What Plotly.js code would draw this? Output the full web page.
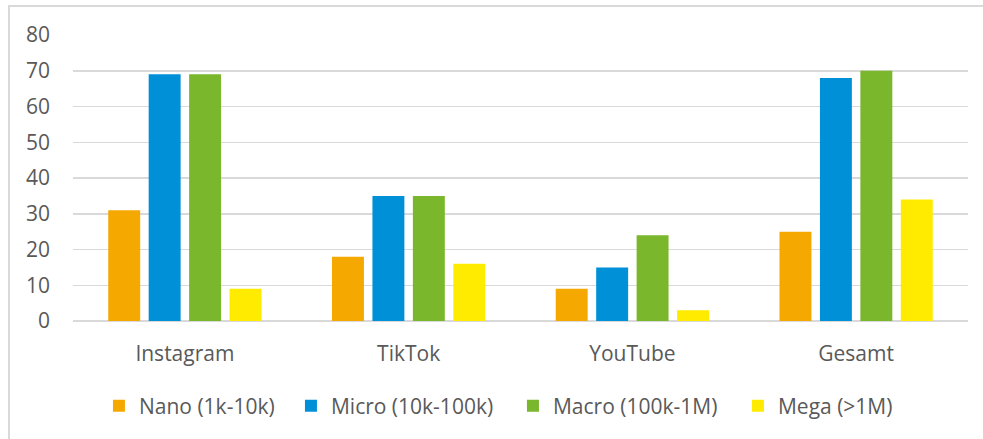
<!DOCTYPE html>
<html><head><meta charset="utf-8">
<script src="https://cdn.plot.ly/plotly-3.0.1.min.js"></script>
<style>
html,body{margin:0;padding:0;background:#fff;overflow:hidden;}
#chart{width:983px;height:439px;}
#frame{position:absolute;left:8px;top:5px;width:1200px;height:800px;border-left:2px solid #D9D9D9;border-top:2px solid #D9D9D9;pointer-events:none;}
</style></head>
<body>
<div id="chart"></div>
<div id="frame"></div>
<script>
const categories = ["Instagram", "TikTok", "YouTube", "Gesamt"];
const seriesNames = ["Nano (1k-10k)", "Micro (10k-100k)", "Macro (100k-1M)", "Mega (>1M)"];
const nano  = [31, 18, 9, 25];
const micro = [69, 35, 15, 68];
const macro = [69, 35, 24, 70];
const mega  = [9, 16, 3, 34];
const yTicks = [0, 10, 20, 30, 40, 50, 60, 70, 80];

const colors = ["#F5A800", "#0090D8", "#7AB72C", "#FFEB00"];
const legendWidths = [147, 177, 180, 130];
const values = [nano, micro, macro, mega];
const data = values.map((v, i) => ({
  type: "bar", x: categories, y: v, name: seriesNames[i],
  marker: {color: colors[i], line: {width: 0}},
  legendwidth: legendWidths[i],
  hoverinfo: "none"
}));

const font = {family: "'Open Sans', 'Noto Sans', sans-serif", size: 21, color: "#595959"};
const layout = {
  width: 983, height: 439,
  margin: {l: 73, r: 15, t: 35, b: 118, autoexpand: false},
  paper_bgcolor: "#fff", plot_bgcolor: "#fff",
  font: font,
  barmode: "group", bargap: 0.277, bargroupgap: 0.21,
  xaxis: {tickfont: font, showgrid: false, zeroline: false, showline: false, ticks: "", automargin: false, ticklabelstandoff: 18},
  yaxis: {range: [0, 80], tickvals: yTicks, ticktext: yTicks.map(String), tickfont: font,
          showgrid: true, gridcolor: "#D9D9D9", gridwidth: 1.5, zeroline: true, zerolinecolor: "#D9D9D9", zerolinewidth: 1.5,
          showline: false, ticks: "", ticklabelstandoff: 22, automargin: false},
  showlegend: true,
  legend: {orientation: "h", x: 0.029, xanchor: "left", y: 0.075, yref: "container", yanchor: "middle", font: font, itemwidth: 30, traceorder: "normal"}
};
Plotly.newPlot("chart", data, layout, {displayModeBar: false, staticPlot: true});
</script>
</body></html>
